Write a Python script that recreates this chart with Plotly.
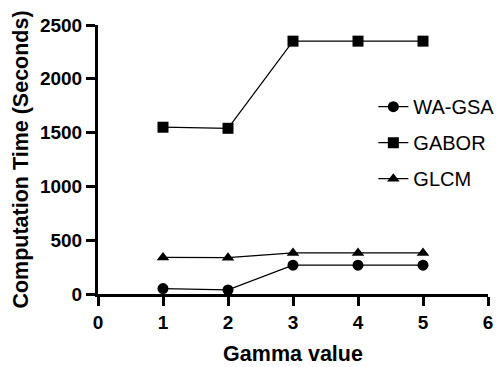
import plotly.graph_objects as go

gamma = [1, 2, 3, 4, 5]
wa_gsa = [50, 38, 268, 268, 268]
gabor = [1550, 1540, 2350, 2350, 2350]
glcm = [340, 338, 382, 382, 382]

x_ticks = [0, 1, 2, 3, 4, 5, 6]
y_ticks = [0, 500, 1000, 1500, 2000, 2500]

series = [
    ("WA-GSA", wa_gsa, "circle", 11),
    ("GABOR", gabor, "square", 11),
    ("GLCM", glcm, "triangle-up", 11),
]

fig = go.Figure()
for name, vals, sym, sz in series:
    fig.add_trace(go.Scatter(
        x=gamma, y=vals, name=name, mode="lines+markers",
        legendgroup=name,
        line=dict(color="black", width=1.2),
        marker=dict(symbol=sym, size=sz, color="black"),
        cliponaxis=False,
    ))

FAM = "Liberation Sans, Arial, sans-serif"
axis_font = dict(family=FAM, size=19, color="black", weight="bold")
title_font = dict(family=FAM, size=21.5, color="black", weight="bold")

# page body has an 8px default margin; size the figure to fit the window
fig.update_layout(
    width=496, height=359,
    margin=dict(l=90, r=16, t=17, b=73, autoexpand=False),
    paper_bgcolor="white", plot_bgcolor="white",
    showlegend=True,
    legend=dict(
        x=0.706, y=0.769, xanchor="left", yanchor="top",
        font=dict(family=FAM, size=20, color="black"),
        bgcolor="rgba(0,0,0,0)", tracegroupgap=7,
    ),
    xaxis=dict(
        range=[0, 6], tickvals=x_ticks, ticktext=[str(v) for v in x_ticks],
        showline=True, linecolor="black", linewidth=3,
        ticks="outside", ticklen=9, tickwidth=3, tickcolor="black",
        showgrid=False, zeroline=False, automargin=False,
        tickfont=axis_font,
        title=dict(text="Gamma value", font=title_font, standoff=15),
    ),
    yaxis=dict(
        range=[0, 2500], tickvals=y_ticks, ticktext=[str(v) for v in y_ticks],
        showline=True, linecolor="black", linewidth=3,
        ticks="outside", ticklen=9, tickwidth=3, tickcolor="black",
        showgrid=False, zeroline=False, automargin=False,
        tickfont=axis_font,
        title=dict(text="Computation Time (Seconds)", font=title_font, standoff=6),
    ),
)

fig.write_html("out.html")
